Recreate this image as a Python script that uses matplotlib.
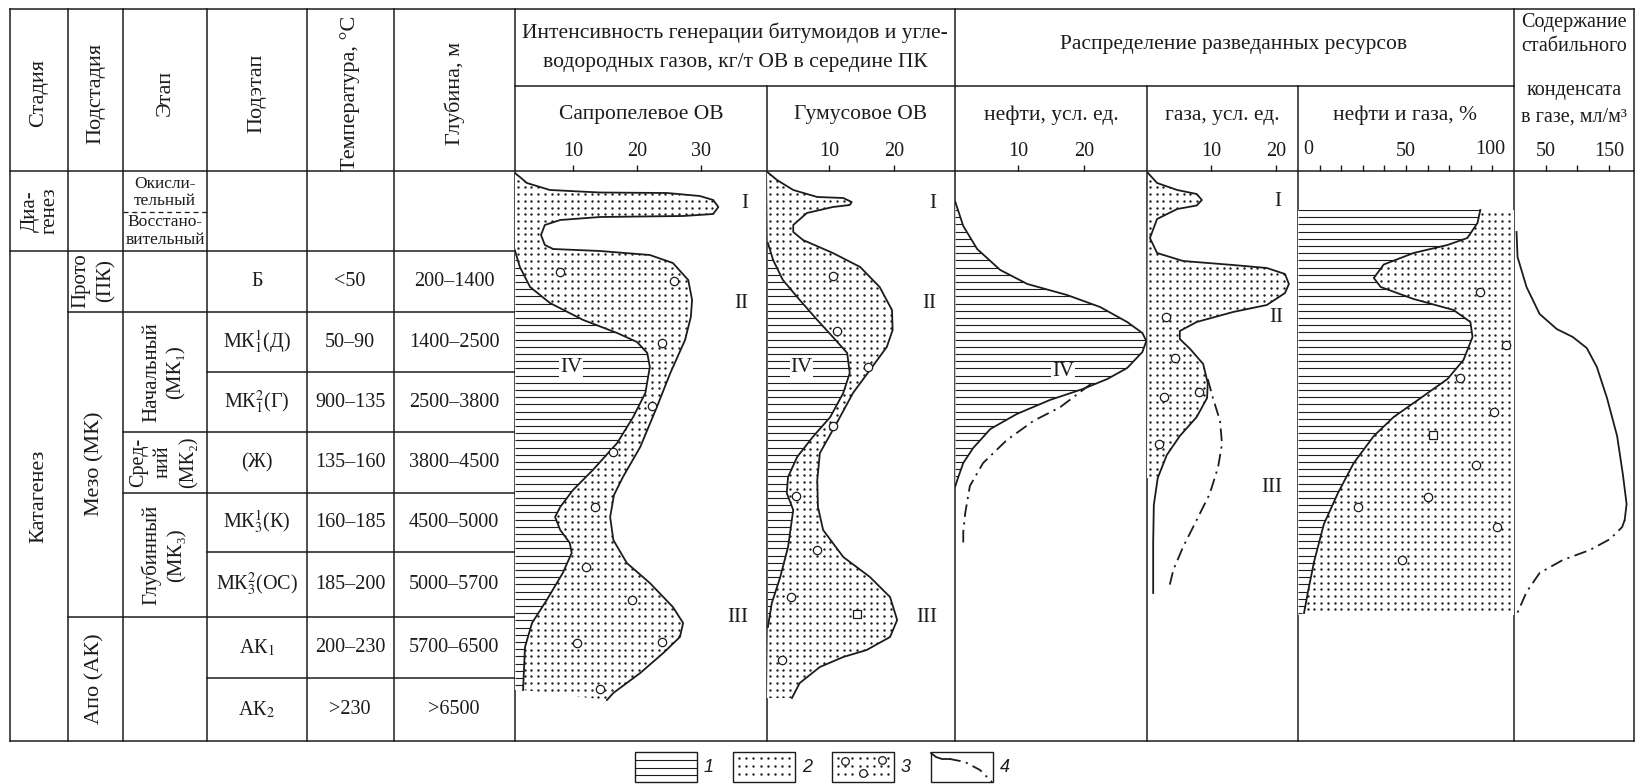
import numpy as np
import matplotlib.pyplot as plt
from matplotlib.patches import Rectangle

plt.rcParams['font.family'] = ['Liberation Serif', 'DejaVu Serif']
plt.rcParams['mathtext.fontset'] = 'stix'

INK = '#1c1c1c'
W, H = 1636, 784
TOP, BOT = 171, 741
FS = 14.5      # table values, tick labels
FS_HEAD = 15.5 # titles
FS_ROT = 16    # rotated column titles

# ---------------- left table ----------------
col_x = [10, 68, 123, 207, 307, 394, 515]
head_titles = ['Стадия', 'Подстадия', 'Этап', 'Подэтап', 'Температура, °С', 'Глубина, м']
row_edges = [171, 251, 312, 372, 432, 493, 552, 617, 678, 741]
row_line_start = [10, 68, 207, 123, 123, 207, 68, 207]
substages = ['Б', 'МК$_1^1$(Д)', 'МК$_1^2$(Г)', '(Ж)', 'МК$_3^1$(К)',
             'МК$_3^2$(ОС)', 'АК$_1$', 'АК$_2$']
temps = ['<50', '50–90', '900–135', '135–160', '160–185', '185–200', '200–230', '>230']
depths = ['200–1400', '1400–2500', '2500–3800', '3800–4500', '4500–5000',
          '5000–5700', '5700–6500', '>6500']

# ---------------- curves: value on panel scale, y = depth position ----------------
# sapropelic OM
sap_out_y = [173, 177, 183, 190, 192.5, 193, 196, 200, 207, 214, 216, 217, 220, 225, 235, 245,
             249, 251, 255, 263, 280, 300, 317, 340, 373, 407, 447, 477, 495, 517, 540, 563,
             583, 607, 623, 637, 653, 673, 693, 700]
sap_out_v = [0.9, 1.7, 2.8, 6.4, 14.2, 24.7, 29.8, 31.9, 32.7, 31.9, 27.2, 14.2, 8.0, 5.6, 5.0,
             5.6, 6.9, 14.2, 22.0, 25.6, 28.0, 28.6, 28.4, 27.5, 25.2, 23.1, 20.5, 17.8, 16.4,
             15.8, 16.3, 18.4, 22.0, 25.6, 27.2, 26.7, 24.1, 20.5, 16.3, 15.3]
sap_in_y = [250, 267, 287, 303, 320, 333, 342, 353, 367, 393, 417, 443, 470, 490, 507, 517, 530,
            543, 553, 573, 600, 623, 647, 690]
sap_in_v = [0.9, 1.7, 3.3, 6.4, 11.6, 16.9, 20.0, 21.6, 22.0, 21.3, 19.4, 16.9, 13.1, 10.0, 8.0,
            7.2, 8.0, 9.5, 9.8, 8.4, 5.9, 3.6, 2.5, 2.2]
sap_pts_y = [272, 281, 343, 406, 452, 507, 567, 600, 643, 642, 689]
sap_pts_v = [8.0, 25.8, 23.9, 22.3, 16.3, 13.4, 12.0, 19.2, 10.6, 23.9, 14.2]

# humic OM
hum_out_y = [172, 180, 190, 197, 198, 202, 205, 207, 213, 225, 232, 240, 253, 267, 287, 310, 330,
             347, 370, 393, 423, 453, 480, 507, 530, 557, 577, 597, 620, 637, 650, 657, 667,
             683, 698]
hum_out_v = [0.5, 2.0, 4.5, 8.2, 12.2, 13.5, 13.2, 10.6, 6.6, 4.5, 4.5, 6.0, 10.6, 14.8, 17.8,
             19.7, 19.8, 18.9, 16.3, 13.7, 11.2, 8.6, 8.2, 8.3, 9.1, 12.2, 16.3, 19.4, 20.5,
             19.4, 15.8, 12.2, 8.6, 5.5, 4.3]
hum_in_y = [243, 260, 280, 300, 320, 337, 353, 373, 393, 417, 437, 457, 477, 493, 510, 547, 577,
            603, 627]
hum_in_v = [0.6, 1.4, 2.9, 5.5, 8.2, 10.6, 12.8, 13.2, 12.2, 10.2, 7.5, 5.1, 3.7, 3.5, 4.5, 3.7,
            2.5, 1.2, 0.6]
hum_pts_y = [276, 331, 367, 426, 496, 550, 597, 660]
hum_pts_v = [10.6, 11.2, 16.0, 10.6, 4.9, 8.2, 4.2, 2.8]
hum_sq = (14.3, 614)

# oil resources
oil_y = [202, 226, 249, 270, 284, 295, 307, 322, 333, 341, 352, 368, 379, 389, 400, 414, 429, 448,
         463, 478, 486]
oil_v = [0.5, 1.7, 3.8, 7.3, 11.4, 17.4, 22.4, 26.5, 28.8, 29.4, 28.8, 26.5, 23.5, 19.8, 14.8,
         9.8, 5.8, 3.2, 1.7, 0.9, 0.5]
oil_dd_y = [384, 407, 421, 440, 463, 486, 513, 532, 547]
oil_dd_v = [21.0, 16.4, 12.3, 8.3, 4.7, 2.7, 2.0, 1.7, 1.7]

# gas resources
gas_y = [173, 183, 190, 194, 200, 205.5, 209, 219, 238, 253, 261, 265, 268, 274, 284, 293, 305,
         312, 322, 331, 339, 349, 364, 383, 398, 417, 436, 455, 478, 505, 543, 593]
gas_v = [0.3, 1.7, 4.8, 7.8, 8.6, 7.8, 4.8, 1.7, 0.6, 1.7, 5.7, 13.4, 18.6, 21.4, 22.0, 21.4,
         18.6, 13.4, 7.8, 5.2, 5.2, 6.8, 8.8, 9.5, 9.4, 7.8, 5.2, 3.2, 1.8, 1.2, 1.1, 1.1]
gas_dd_y = [379, 398, 421, 444, 467, 494, 520, 547, 570, 589]
gas_dd_v = [9.5, 10.3, 11.4, 11.7, 11.1, 9.8, 7.8, 5.7, 4.2, 3.5]
gas_pts_y = [317, 358, 397, 392, 444]
gas_pts_v = [3.1, 4.5, 2.8, 8.2, 2.0]

# oil and gas, %
og_y = [210, 223, 238, 245, 253, 264.5, 278, 287, 299, 310, 322, 337, 360, 379, 398, 417, 436,
        463, 493, 524, 562, 592, 613]
og_v = [84.4, 83.1, 78.4, 69.2, 53.5, 39.7, 35.1, 38.3, 53.5, 72.0, 79.8, 80.8, 76.6, 69.2, 56.8,
        44.3, 35.1, 25.8, 18.5, 12.0, 7.4, 4.6, 2.8]
og_pts_y = [292, 345, 378, 412, 465, 497, 507, 527, 560]
og_pts_v = [84.4, 96.4, 75.2, 90.9, 82.6, 60.0, 27.7, 92.3, 48.0]
og_sq = (62.3, 435)

# condensate content
cond_y = [232, 257, 287, 314, 329, 337, 348, 367, 398, 436, 474, 504, 520]
cond_v = [4, 5.6, 19.8, 40.5, 67.5, 92.9, 115, 131, 147, 163, 172, 178, 175]
cond_dd_y = [520, 527, 539, 550, 560, 573, 592, 615]
cond_dd_v = [175, 171, 152, 120, 77, 40.5, 19.8, 4]

fig = plt.figure(figsize=(W / 100, H / 100), dpi=100)
bg = fig.add_axes([0, 0, 1, 1])
bg.set_xlim(0, W)
bg.set_ylim(H, 0)
bg.axis('off')


def seg(x0, y0, x1, y1, ls='-', lw=1.1):
    bg.plot([x0, x1], [y0, y1], color=INK, lw=lw, ls=ls, solid_capstyle='projecting')


def txt(x, y, s, size=FS, rot=0, **kw):
    bg.text(x, y, s, fontsize=size, rotation=rot, ha='center', va='center',
            color=INK, rotation_mode='anchor', **kw)


# frame and grid
seg(10, 9, 1634, 9)
seg(10, TOP, 1634, TOP)
seg(10, BOT, 1634, BOT)
for x in col_x + [955, 1514, 1634]:
    seg(x, 9, x, BOT)
for x in [767, 1147, 1298]:
    seg(x, 86, x, BOT)
seg(515, 86, 1514, 86)
for y, x0 in zip(row_edges[1:-1], row_line_start):
    seg(x0, y, 515, y)
seg(123, 212, 207, 212, ls=(0, (4, 3)), lw=0.9)

# left headers
for i, t in enumerate(head_titles):
    txt((col_x[i] + col_x[i + 1]) / 2, 93, t, size=FS_ROT, rot=90)
for i in range(8):
    yc = (row_edges[i + 1] + row_edges[i + 2]) / 2
    txt(257, yc, substages[i])
    txt(350, yc, temps[i])
    txt(454, yc, depths[i])

# rotated cell labels, one text per line: (x, y, text, size)
rot_cells = [(30, 211, 'Диа-', 15), (50, 211, 'генез', 15),
             (39, 496, 'Катагенез', FS_ROT),
             (81, 281, 'Прото', 15), (106, 281, '(ПК)', 15),
             (95, 464, 'Мезо (МК)', FS_ROT),
             (95, 679, 'Апо (АК)', FS_ROT),
             (152, 372, 'Начальный', 15), (176, 372, '(МК₁)', 15),
             (139, 462, 'Сред-', 14.5), (163, 462, 'ний', 14.5), (189, 462, '(МК₂)', 14.5),
             (151, 555, 'Глубинный', 15), (177, 555, '(МК₃)', 15)]
for x, y, s, size in rot_cells:
    txt(x, y, s, size=size, rot=90)
for y, s in zip([184, 201, 222, 240], ['Окисли-', 'тельный', 'Восстано-', 'вительный']):
    txt(165, y, s, size=12.5)

# right headers
txt(735, 33, 'Интенсивность генерации битумоидов и угле-', size=FS_HEAD)
txt(735, 62, 'водородных газов, кг/т ОВ в середине ПК', size=FS_HEAD)
txt(641, 114, 'Сапропелевое ОВ', size=FS_HEAD)
txt(861, 114, 'Гумусовое ОВ', size=FS_HEAD)
txt(1234, 44, 'Распределение разведанных ресурсов', size=FS_HEAD)
txt(1051, 115, 'нефти, усл. ед.', size=FS_HEAD)
txt(1222, 115, 'газа, усл. ед.', size=FS_HEAD)
txt(1405, 115, 'нефти и газа, %', size=FS_HEAD)
for y, s in zip([22, 46, 90, 117], ['Содержание', 'стабильного', 'конденсата', 'в газе, мл/м³']):
    txt(1574, y, s, size=14.5)


def panel(x0, x1, xlim, ticks, labels):
    ax = fig.add_axes([x0 / W, 1 - BOT / H, (x1 - x0) / W, (BOT - TOP) / H])
    ax.set_xlim(*xlim)
    ax.set_ylim(BOT, TOP)
    ax.patch.set_visible(False)
    for s in ax.spines.values():
        s.set_visible(False)
    ax.set_yticks([])
    ax.xaxis.tick_top()
    ax.set_xticks(ticks, labels)
    ax.tick_params(axis='x', direction='out', length=4.5, width=1.0, color=INK, pad=2.5,
                   labelsize=FS, labelcolor=INK)
    ax.px = (x0, x1)
    return ax


def region(ax, xs, ys, kind):
    patch = ax.fill(xs, ys, facecolor='white', edgecolor='none', zorder=1)[0]
    x0, x1 = ax.px
    if kind == 'dots':
        gx, gy = np.meshgrid(np.arange(x0 + 3, x1, 6.7), np.arange(TOP + 3, BOT, 6.7))
        art = ax.scatter(gx.ravel(), gy.ravel(), s=3.0, color=INK, linewidths=0,
                         transform=bg.transData, zorder=2)
    else:
        art = ax.hlines(np.arange(TOP + 3, BOT, 7.2), x0, x1, colors=INK, lw=0.8,
                        transform=bg.transData, zorder=2)
    art.set_clip_path(patch)


def curve(ax, v, y, dd=False):
    ls = (0, (7, 3, 1.2, 3)) if dd else '-'
    ax.plot(v, y, color=INK, lw=1.3, ls=ls, zorder=3)


def rings(ax, v, y, marker='o'):
    ax.plot(v, y, ls='none', marker=marker, ms=6, mfc='white', mec=INK, mew=0.9, zorder=4)


def roman(ax, v, y, s, box=False):
    kw = dict(bbox=dict(facecolor='white', edgecolor='none', pad=0.5)) if box else {}
    ax.text(v, y, s, fontsize=15, ha='center', va='center', color=INK, zorder=5, **kw)


# sapropelic
ax = panel(515, 767, (0.94, 40.3), [10, 20, 30], ['10', '20', '30'])
xl = 0.94
region(ax, [xl] + sap_out_v + sap_in_v[::-1] + [xl], [171] + sap_out_y + sap_in_y[::-1] + [171], 'dots')
region(ax, sap_in_v + [xl, xl], sap_in_y + [690, 250], 'lines')
curve(ax, sap_out_v, sap_out_y)
curve(ax, sap_in_v, sap_in_y)
rings(ax, sap_pts_v, sap_pts_y)
roman(ax, 36.9, 203, 'I')
roman(ax, 36.3, 304, 'II')
roman(ax, 35.8, 617, 'III')
roman(ax, 9.7, 368, 'IV', box=True)

# humic
ax = panel(767, 955, (0.46, 29.4), [10, 20], ['10', '20'])
xl = 0.46
region(ax, [xl] + hum_out_v + [xl] + hum_in_v[::-1], [171] + hum_out_y + [698] + hum_in_y[::-1], 'dots')
region(ax, hum_in_v, hum_in_y, 'lines')
curve(ax, hum_out_v, hum_out_y)
curve(ax, hum_in_v, hum_in_y)
rings(ax, hum_pts_v, hum_pts_y)
rings(ax, [hum_sq[0]], [hum_sq[1]], 's')
roman(ax, 26.0, 203, 'I')
roman(ax, 25.4, 304, 'II')
roman(ax, 25.1, 617, 'III')
roman(ax, 5.8, 368, 'IV', box=True)

# oil
ax = panel(955, 1147, (0.45, 29.5), [10, 20], ['10', '20'])
region(ax, oil_v, oil_y, 'lines')
curve(ax, oil_v, oil_y)
curve(ax, oil_dd_v, oil_dd_y, dd=True)
roman(ax, 16.8, 372, 'IV', box=True)

# gas
ax = panel(1147, 1298, (0.15, 23.4), [10, 20], ['10', '20'])
region(ax, gas_v[:29] + [0.15], gas_y[:29] + [478], 'dots')
curve(ax, gas_v, gas_y)
curve(ax, gas_dd_v, gas_dd_y, dd=True)
rings(ax, gas_pts_v, gas_pts_y)
roman(ax, 20.3, 202, 'I')
roman(ax, 20.0, 318, 'II')
roman(ax, 19.4, 488, 'III')

# oil and gas, %
ticks = list(range(10, 100, 10))
ax = panel(1298, 1514, (0, 100), ticks, ['50' if t == 50 else '' for t in ticks])
region(ax, [0] + og_v + [0], [210] + og_y + [615], 'lines')
region(ax, og_v + [100, 100], og_y + [615, 210], 'dots')
curve(ax, og_v, og_y)
rings(ax, og_pts_v, og_pts_y)
rings(ax, [og_sq[0]], [og_sq[1]], 's')
ax.text(2.5, 149, '0', fontsize=FS, ha='left', va='center', color=INK)
ax.text(96, 149, '100', fontsize=FS, ha='right', va='center', color=INK)

# condensate
ax = panel(1514, 1634, (0, 189.7), [50, 100, 150], ['50', '', '150'])
curve(ax, cond_v, cond_y)
curve(ax, cond_dd_v, cond_dd_y, dd=True)

# ---------------- legend ----------------
leg_x = [635, 733, 832, 931]
for i, x in enumerate(leg_x):
    r = Rectangle((x, 752), 62, 30, facecolor='white', edgecolor=INK, lw=1.0)
    bg.add_patch(r)
    bg.text(x + 74, 767, str(i + 1), fontsize=13, style='italic', family='Liberation Sans',
            ha='center', va='center', color=INK)
    if i == 0:
        lc = bg.hlines([760, 768, 775], x, x + 62, colors=INK, lw=0.8)
        lc.set_clip_path(r)
    elif i in (1, 2):
        gx, gy = np.meshgrid(np.arange(x + 6, x + 60, 7.2), [758, 766, 774])
        sc = bg.scatter(gx.ravel(), gy.ravel(), s=3.0, color=INK, linewidths=0)
        sc.set_clip_path(r)
leg3_x, leg3_y = [845, 882, 863], [761, 760, 773]
bg.plot(leg3_x, leg3_y, ls='none', marker='o', ms=5.5, mfc='white', mec=INK, mew=0.9)
leg4_solid_x, leg4_solid_y = [931, 936, 942, 950], [753, 757, 759, 759]
leg4_dd_x, leg4_dd_y = [950, 965, 980, 992], [759, 762, 770, 782]
bg.plot(leg4_solid_x, leg4_solid_y, color=INK, lw=1.3)
bg.plot(leg4_dd_x, leg4_dd_y, color=INK, lw=1.3, ls=(0, (6, 3, 1.2, 3)))

fig.savefig('out.png', dpi=100)
